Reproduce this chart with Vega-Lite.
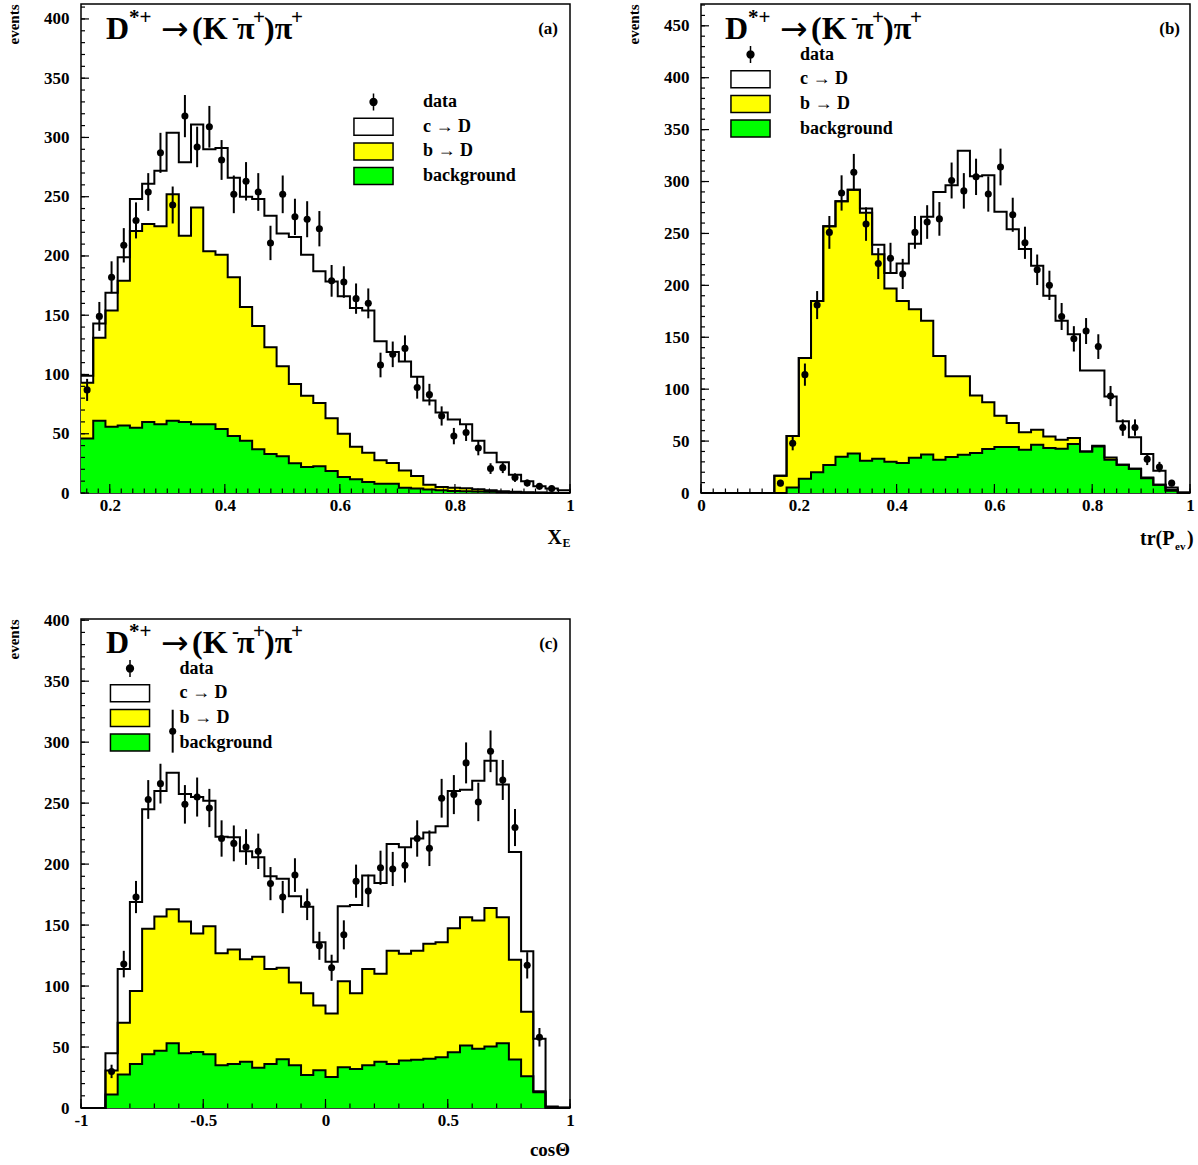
{
"$schema": "https://vega.github.io/schema/vega-lite/v6.json",
"padding": {"left": 5, "top": 3, "right": 5, "bottom": 5},
"background": "white",
"datasets": {
"histA": [{"x":0.15,"tot":99,"yb":93,"bg":46},{"x":0.17125,"tot":143,"yb":131,"bg":61},{"x":0.1925,"tot":169,"yb":154,"bg":56},{"x":0.21375,"tot":199,"yb":179,"bg":57},{"x":0.235,"tot":248,"yb":221,"bg":55},{"x":0.25625,"tot":261,"yb":227,"bg":60},{"x":0.2775,"tot":272,"yb":225,"bg":58},{"x":0.29875,"tot":304,"yb":252,"bg":61},{"x":0.32,"tot":279,"yb":217,"bg":60},{"x":0.34125,"tot":311,"yb":241,"bg":58},{"x":0.3625,"tot":290,"yb":204,"bg":58},{"x":0.38375,"tot":291,"yb":201,"bg":54},{"x":0.405,"tot":266,"yb":182,"bg":48},{"x":0.42625,"tot":250,"yb":157,"bg":44},{"x":0.4475,"tot":248,"yb":141,"bg":37},{"x":0.46875,"tot":234,"yb":123,"bg":33},{"x":0.49,"tot":219,"yb":107,"bg":31},{"x":0.51125,"tot":216,"yb":92,"bg":25},{"x":0.5325,"tot":201,"yb":82,"bg":22},{"x":0.55375,"tot":187,"yb":76,"bg":22.5},{"x":0.575,"tot":178.5,"yb":63,"bg":18.5},{"x":0.59625,"tot":166,"yb":50,"bg":13.5},{"x":0.6175,"tot":156,"yb":39,"bg":11.5},{"x":0.63875,"tot":154,"yb":34,"bg":9.3},{"x":0.66,"tot":128,"yb":27.6,"bg":7.9},{"x":0.68125,"tot":119,"yb":25.3,"bg":7.9},{"x":0.7025,"tot":111,"yb":19,"bg":4.5},{"x":0.72375,"tot":98,"yb":14.3,"bg":3.7},{"x":0.745,"tot":78,"yb":7,"bg":2.9},{"x":0.76625,"tot":68,"yb":5,"bg":2.3},{"x":0.7875,"tot":62,"yb":4.5,"bg":1.7},{"x":0.80875,"tot":58,"yb":4,"bg":1.4},{"x":0.83,"tot":44,"yb":3.1,"bg":1.2},{"x":0.85125,"tot":34,"yb":2.3,"bg":1},{"x":0.8725,"tot":26,"yb":1.5,"bg":0.7},{"x":0.89375,"tot":15.5,"yb":1,"bg":0.5},{"x":0.915,"tot":10,"yb":0.6,"bg":0.3},{"x":0.93625,"tot":5.6,"yb":0.4,"bg":0.2},{"x":0.9575,"tot":3.7,"yb":0.2,"bg":0.1},{"x":0.97875,"tot":2.3,"yb":0.1,"bg":0.05},{"x":1.0,"tot":0,"yb":0,"bg":0}],
"ptsA": [{"xc":0.160625,"n":87,"err":9.3},{"xc":0.181875,"n":149,"err":12.2},{"xc":0.203125,"n":182,"err":13.5},{"xc":0.224375,"n":209,"err":14.5},{"xc":0.245625,"n":230,"err":15.2},{"xc":0.266875,"n":254,"err":15.9},{"xc":0.288125,"n":287,"err":16.9},{"xc":0.309375,"n":243,"err":15.6},{"xc":0.330625,"n":318,"err":17.8},{"xc":0.351875,"n":292,"err":17.1},{"xc":0.373125,"n":309,"err":17.6},{"xc":0.394375,"n":281,"err":16.8},{"xc":0.415625,"n":252,"err":15.9},{"xc":0.436875,"n":263,"err":16.2},{"xc":0.458125,"n":254,"err":15.9},{"xc":0.479375,"n":211,"err":14.5},{"xc":0.500625,"n":252,"err":15.9},{"xc":0.521875,"n":233,"err":15.3},{"xc":0.543125,"n":231,"err":15.2},{"xc":0.564375,"n":223,"err":14.9},{"xc":0.585625,"n":179,"err":13.4},{"xc":0.606875,"n":178,"err":13.3},{"xc":0.628125,"n":164,"err":12.8},{"xc":0.649375,"n":160,"err":12.6},{"xc":0.670625,"n":108,"err":10.4},{"xc":0.691875,"n":117,"err":10.8},{"xc":0.713125,"n":122,"err":11},{"xc":0.734375,"n":89,"err":9.4},{"xc":0.755625,"n":83,"err":9.1},{"xc":0.776875,"n":65,"err":8.1},{"xc":0.798125,"n":48,"err":6.9},{"xc":0.819375,"n":51,"err":7.1},{"xc":0.840625,"n":38,"err":6.2},{"xc":0.861875,"n":20.6,"err":4.5},{"xc":0.883125,"n":21.4,"err":4.6},{"xc":0.904375,"n":13,"err":3.6},{"xc":0.925625,"n":8.4,"err":2.9},{"xc":0.946875,"n":5.6,"err":2.4},{"xc":0.968125,"n":3.7,"err":1.9}],
"histB": [{"x":0,"tot":0,"yb":0,"bg":0},{"x":0.025,"tot":0,"yb":0,"bg":0},{"x":0.05,"tot":0,"yb":0,"bg":0},{"x":0.075,"tot":0,"yb":0,"bg":0},{"x":0.1,"tot":0,"yb":0,"bg":0},{"x":0.125,"tot":0,"yb":0,"bg":0},{"x":0.15,"tot":16.6,"yb":16.6,"bg":0},{"x":0.175,"tot":55,"yb":55,"bg":5.3},{"x":0.2,"tot":130,"yb":130,"bg":13.7},{"x":0.225,"tot":185,"yb":185,"bg":20},{"x":0.25,"tot":257,"yb":257,"bg":27},{"x":0.275,"tot":281,"yb":281,"bg":35},{"x":0.3,"tot":292,"yb":292,"bg":38},{"x":0.325,"tot":274,"yb":270,"bg":31},{"x":0.35,"tot":239,"yb":230,"bg":33},{"x":0.375,"tot":212,"yb":197,"bg":30},{"x":0.4,"tot":221,"yb":185,"bg":29},{"x":0.425,"tot":240,"yb":177,"bg":34},{"x":0.45,"tot":266,"yb":166,"bg":37},{"x":0.475,"tot":290,"yb":132,"bg":32},{"x":0.5,"tot":296.5,"yb":112.5,"bg":34.6},{"x":0.525,"tot":329.6,"yb":112.5,"bg":36.8},{"x":0.55,"tot":305,"yb":94,"bg":38.5},{"x":0.575,"tot":306,"yb":87.4,"bg":42.3},{"x":0.6,"tot":271,"yb":74.5,"bg":44.2},{"x":0.625,"tot":254,"yb":67.4,"bg":44.2},{"x":0.65,"tot":235,"yb":58.4,"bg":41.7},{"x":0.675,"tot":219,"yb":61,"bg":46.5},{"x":0.7,"tot":190,"yb":54.5,"bg":43.3},{"x":0.725,"tot":166,"yb":51.3,"bg":42.6},{"x":0.75,"tot":153,"yb":52.9,"bg":47.1},{"x":0.775,"tot":118,"yb":40,"bg":40},{"x":0.8,"tot":118,"yb":45.5,"bg":44.9},{"x":0.825,"tot":93,"yb":34.3,"bg":32},{"x":0.85,"tot":69,"yb":27.2,"bg":27.2},{"x":0.875,"tot":53.6,"yb":23.3,"bg":23.3},{"x":0.9,"tot":37.5,"yb":15,"bg":14.3},{"x":0.925,"tot":21.4,"yb":7.9,"bg":7.9},{"x":0.95,"tot":5.3,"yb":3.1,"bg":2.1},{"x":0.975,"tot":0.5,"yb":0.3,"bg":0.2},{"x":1.0,"tot":0,"yb":0,"bg":0}],
"ptsB": [{"xc":0.1625,"n":9.5,"err":3.1},{"xc":0.1875,"n":48,"err":6.9},{"xc":0.2125,"n":114,"err":10.7},{"xc":0.2375,"n":181,"err":13.5},{"xc":0.2625,"n":251,"err":15.8},{"xc":0.2875,"n":289,"err":17},{"xc":0.3125,"n":309,"err":17.6},{"xc":0.3375,"n":259,"err":16.1},{"xc":0.3625,"n":221,"err":14.9},{"xc":0.3875,"n":226,"err":15},{"xc":0.4125,"n":211,"err":14.5},{"xc":0.4375,"n":251,"err":15.8},{"xc":0.4625,"n":261,"err":16.2},{"xc":0.4875,"n":264,"err":16.2},{"xc":0.5125,"n":301,"err":17.3},{"xc":0.5375,"n":291,"err":17.1},{"xc":0.5625,"n":304.5,"err":17.5},{"xc":0.5875,"n":288,"err":17},{"xc":0.6125,"n":314,"err":17.7},{"xc":0.6375,"n":268,"err":16.4},{"xc":0.6625,"n":241,"err":15.5},{"xc":0.6875,"n":215,"err":14.7},{"xc":0.7125,"n":200,"err":14.1},{"xc":0.7375,"n":170,"err":13},{"xc":0.7625,"n":148.5,"err":12.2},{"xc":0.7875,"n":156,"err":12.5},{"xc":0.8125,"n":141,"err":11.9},{"xc":0.8375,"n":93.4,"err":9.7},{"xc":0.8625,"n":63,"err":7.9},{"xc":0.8875,"n":63,"err":7.9},{"xc":0.9125,"n":32.6,"err":5.7},{"xc":0.9375,"n":25,"err":5},{"xc":0.9625,"n":9.5,"err":3.1}],
"histC": [{"x":-1,"tot":0,"yb":0,"bg":0},{"x":-0.95,"tot":0,"yb":0,"bg":0},{"x":-0.9,"tot":45,"yb":30.7,"bg":11},{"x":-0.85,"tot":114,"yb":70,"bg":27.5},{"x":-0.8,"tot":169,"yb":96,"bg":36},{"x":-0.75,"tot":245,"yb":147,"bg":44},{"x":-0.7,"tot":260,"yb":157,"bg":47},{"x":-0.65,"tot":275,"yb":163,"bg":53},{"x":-0.6,"tot":257.5,"yb":153,"bg":45},{"x":-0.55,"tot":255,"yb":143,"bg":46},{"x":-0.5,"tot":252,"yb":149,"bg":44},{"x":-0.45,"tot":222.5,"yb":127,"bg":35},{"x":-0.4,"tot":222,"yb":130,"bg":36},{"x":-0.35,"tot":210.5,"yb":122,"bg":38},{"x":-0.3,"tot":205.6,"yb":124,"bg":33},{"x":-0.25,"tot":190,"yb":114,"bg":36},{"x":-0.2,"tot":188,"yb":115,"bg":40},{"x":-0.15,"tot":173.6,"yb":103,"bg":35},{"x":-0.1,"tot":165,"yb":94,"bg":27},{"x":-0.05,"tot":136,"yb":84,"bg":31},{"x":0,"tot":120,"yb":77.5,"bg":25.5},{"x":0.05,"tot":165.4,"yb":104,"bg":33.5},{"x":0.1,"tot":166.5,"yb":94,"bg":32},{"x":0.15,"tot":190.6,"yb":114,"bg":35},{"x":0.2,"tot":184.6,"yb":110,"bg":38},{"x":0.25,"tot":216.5,"yb":129,"bg":36},{"x":0.3,"tot":213.8,"yb":126.4,"bg":39},{"x":0.35,"tot":221,"yb":129,"bg":39.5},{"x":0.4,"tot":226,"yb":134.6,"bg":40.3},{"x":0.45,"tot":231,"yb":136,"bg":41.7},{"x":0.5,"tot":260,"yb":147.4,"bg":45.8},{"x":0.55,"tot":261,"yb":156.4,"bg":51.2},{"x":0.6,"tot":268.4,"yb":153.7,"bg":48.5},{"x":0.65,"tot":284.8,"yb":164.1,"bg":50.4},{"x":0.7,"tot":265.2,"yb":156.4,"bg":53.1},{"x":0.75,"tot":210,"yb":121.5,"bg":39.8},{"x":0.8,"tot":128.5,"yb":79,"bg":26},{"x":0.85,"tot":56.7,"yb":13.8,"bg":13},{"x":0.9,"tot":1.2,"yb":0.5,"bg":0.3},{"x":0.95,"tot":0.5,"yb":0.2,"bg":0.1},{"x":1.0,"tot":0,"yb":0,"bg":0}],
"ptsC": [{"xc":-0.875,"n":30,"err":5.5},{"xc":-0.825,"n":118,"err":10.9},{"xc":-0.775,"n":173,"err":13.2},{"xc":-0.725,"n":253,"err":15.9},{"xc":-0.675,"n":266,"err":16.3},{"xc":-0.625,"n":309,"err":17.6},{"xc":-0.575,"n":249,"err":15.8},{"xc":-0.525,"n":255,"err":16},{"xc":-0.475,"n":246,"err":15.7},{"xc":-0.425,"n":221,"err":14.9},{"xc":-0.375,"n":217,"err":14.7},{"xc":-0.325,"n":214,"err":14.6},{"xc":-0.275,"n":210.5,"err":14.5},{"xc":-0.225,"n":184,"err":13.6},{"xc":-0.175,"n":173,"err":13.2},{"xc":-0.125,"n":191,"err":13.8},{"xc":-0.075,"n":167,"err":12.9},{"xc":-0.025,"n":133,"err":11.5},{"xc":0.025,"n":115,"err":10.7},{"xc":0.075,"n":142,"err":11.9},{"xc":0.125,"n":186,"err":13.6},{"xc":0.175,"n":178,"err":13.3},{"xc":0.225,"n":197,"err":14},{"xc":0.275,"n":196,"err":14},{"xc":0.325,"n":199,"err":14.1},{"xc":0.375,"n":221,"err":14.9},{"xc":0.425,"n":213,"err":14.6},{"xc":0.475,"n":254,"err":15.9},{"xc":0.525,"n":257,"err":16},{"xc":0.575,"n":283,"err":16.8},{"xc":0.625,"n":251,"err":15.8},{"xc":0.675,"n":292.5,"err":17.1},{"xc":0.725,"n":269,"err":16.4},{"xc":0.775,"n":230,"err":15.2},{"xc":0.825,"n":117,"err":10.8},{"xc":0.875,"n":58,"err":7.6}],
"legendItems": [{"cat":"data"},{"cat":"c → D"},{"cat":"b → D"},{"cat":"background"}],
"yTicks": [{"v":0},{"v":10},{"v":20},{"v":30},{"v":40},{"v":50},{"v":60},{"v":70},{"v":80},{"v":90},{"v":100},{"v":110},{"v":120},{"v":130},{"v":140},{"v":150},{"v":160},{"v":170},{"v":180},{"v":190},{"v":200},{"v":210},{"v":220},{"v":230},{"v":240},{"v":250},{"v":260},{"v":270},{"v":280},{"v":290},{"v":300},{"v":310},{"v":320},{"v":330},{"v":340},{"v":350},{"v":360},{"v":370},{"v":380},{"v":390},{"v":400},{"v":410},{"v":420},{"v":430},{"v":440},{"v":450},{"v":460},{"v":470}],
"xTicksA": [{"v":0.16},{"v":0.18},{"v":0.2},{"v":0.22},{"v":0.24},{"v":0.26},{"v":0.28},{"v":0.3},{"v":0.32},{"v":0.34},{"v":0.36},{"v":0.38},{"v":0.4},{"v":0.42},{"v":0.44},{"v":0.46},{"v":0.48},{"v":0.5},{"v":0.52},{"v":0.54},{"v":0.56},{"v":0.58},{"v":0.6},{"v":0.62},{"v":0.64},{"v":0.66},{"v":0.68},{"v":0.7},{"v":0.72},{"v":0.74},{"v":0.76},{"v":0.78},{"v":0.8},{"v":0.82},{"v":0.84},{"v":0.86},{"v":0.88},{"v":0.9},{"v":0.92},{"v":0.94},{"v":0.96},{"v":0.98},{"v":1}],
"xTicksB": [{"v":0},{"v":0.025},{"v":0.05},{"v":0.075},{"v":0.1},{"v":0.125},{"v":0.15},{"v":0.175},{"v":0.2},{"v":0.225},{"v":0.25},{"v":0.275},{"v":0.3},{"v":0.325},{"v":0.35},{"v":0.375},{"v":0.4},{"v":0.425},{"v":0.45},{"v":0.475},{"v":0.5},{"v":0.525},{"v":0.55},{"v":0.575},{"v":0.6},{"v":0.625},{"v":0.65},{"v":0.675},{"v":0.7},{"v":0.725},{"v":0.75},{"v":0.775},{"v":0.8},{"v":0.825},{"v":0.85},{"v":0.875},{"v":0.9},{"v":0.925},{"v":0.95},{"v":0.975},{"v":1}],
"xTicksC": [{"v":-1},{"v":-0.9},{"v":-0.8},{"v":-0.7},{"v":-0.6},{"v":-0.5},{"v":-0.4},{"v":-0.3},{"v":-0.2},{"v":-0.1},{"v":0},{"v":0.1},{"v":0.2},{"v":0.3},{"v":0.4},{"v":0.5},{"v":0.6},{"v":0.7},{"v":0.8},{"v":0.9},{"v":1}]
},
"columns": 2,
"spacing": {"row": 126, "column": 131},
"bounds": "flush",
"resolve": {"scale": {"fill": "independent", "shape": "independent"}, "legend": {"fill": "independent", "shape": "independent"}},
"concat": [
{
"width": 489, "height": 489,
"data": {"name": "histA"},
"layer": [
{"mark": {"type": "area", "interpolate": "step-after", "color": "#ffff00"},
 "encoding": {
  "x": {"field": "x", "type": "quantitative", "scale": {"domain": [0.15, 1], "nice": false, "zero": false},
        "axis": {"title": null, "ticks": false, "values": [0.2,0.4,0.6,0.8,1], "labelExpr": "(datum.value < 0 ? '-' : '') + format(abs(datum.value),'~g')", "labelPadding": 4.5}},
  "y": {"field": "yb", "type": "quantitative", "stack": null, "title": "events", "scale": {"domain": [0, 412.6], "nice": false},
        "axis": {"title": "events", "ticks": false, "titleAnchor": "end", "titlePadding": 22, "values": [0,50,100,150,200,250,300,350,400], "labelPadding": 12}}
 }},
{"mark": {"type": "area", "interpolate": "step-after", "color": "#00ff00"},
 "encoding": {"x": {"field": "x", "type": "quantitative", "title": null}, "y": {"field": "bg", "type": "quantitative", "stack": null, "title": "events"}}},
{"mark": {"type": "line", "interpolate": "step-after", "color": "black", "strokeWidth": 2},
 "encoding": {"x": {"field": "x", "type": "quantitative", "title": null}, "y": {"field": "tot", "type": "quantitative", "title": "events"}}},
{"mark": {"type": "line", "interpolate": "step-after", "color": "black", "strokeWidth": 2},
 "encoding": {"x": {"field": "x", "type": "quantitative", "title": null}, "y": {"field": "yb", "type": "quantitative", "title": "events"}}},
{"mark": {"type": "line", "interpolate": "step-after", "color": "black", "strokeWidth": 2},
 "encoding": {"x": {"field": "x", "type": "quantitative", "title": null}, "y": {"field": "bg", "type": "quantitative", "title": "events"}}},
{"data": {"name": "ptsA"}, "mark": {"type": "errorbar", "color": "black", "thickness": 2},
 "encoding": {"x": {"field": "xc", "type": "quantitative", "title": null}, "y": {"field": "n", "type": "quantitative", "title": "events"}, "yError": {"field": "err"}}},
{"data": {"name": "ptsA"}, "mark": {"type": "point", "filled": true, "color": "black", "size": 50, "opacity": 1},
 "encoding": {"x": {"field": "xc", "type": "quantitative", "title": null}, "y": {"field": "n", "type": "quantitative", "title": "events"}}},
{"data": {"name": "yTicks"}, "transform": [{"filter": "datum.v <= 412"}],
 "mark": {"type": "rule", "color": "black", "strokeWidth": 1.2, "x2Offset": 4},
 "encoding": {"x": {"datum": 0.15, "type": "quantitative"}, "x2": {"datum": 0.15}, "y": {"field": "v", "type": "quantitative", "title": "events"}}},
{"data": {"name": "yTicks"}, "transform": [{"filter": "datum.v <= 412 && datum.v % 50 == 0"}],
 "mark": {"type": "rule", "color": "black", "strokeWidth": 1.2, "x2Offset": 8},
 "encoding": {"x": {"datum": 0.15, "type": "quantitative"}, "x2": {"datum": 0.15}, "y": {"field": "v", "type": "quantitative", "title": "events"}}},
{"data": {"name": "xTicksA"},
 "mark": {"type": "rule", "color": "black", "strokeWidth": 1.2, "y2Offset": -4.5},
 "encoding": {"x": {"field": "v", "type": "quantitative", "title": null}, "y": {"datum": 0, "type": "quantitative"}, "y2": {"datum": 0}}},
{"data": {"name": "xTicksA"}, "transform": [{"filter": "abs(datum.v*5-round(datum.v*5)) < 1e-6"}],
 "mark": {"type": "rule", "color": "black", "strokeWidth": 1.2, "y2Offset": -9},
 "encoding": {"x": {"field": "v", "type": "quantitative", "title": null}, "y": {"datum": 0, "type": "quantitative"}, "y2": {"datum": 0}}},
{"data": {"name": "legendItems"}, "mark": {"type": "point", "filled": true, "size": 0, "opacity": 1, "stroke": "black", "strokeWidth": 1.5},
 "encoding": {
  "fill": {"field": "cat", "type": "nominal", "scale": {"domain": ["data","c → D","b → D","background"], "range": ["black","white","#ffff00","#00ff00"]},
           "legend": {"title": null, "orient": "none", "legendX": 283, "legendY": 88.5, "encode": {"symbols": {"update": {"stroke": {"value": "black"}, "strokeWidth": {"value": 1.5}, "opacity": {"value": 1}}}}}},
  "shape": {"field": "cat", "type": "nominal", "scale": {"domain": ["data","c → D","b → D","background"], "range": ["M0,-1V1M-0.4,0A0.4,0.4,0,1,0,0.4,0A0.4,0.4,0,1,0,-0.4,0Z","M-2.3,-1H2.3V1H-2.3Z","M-2.3,-1H2.3V1H-2.3Z","M-2.3,-1H2.3V1H-2.3Z"]},
           "legend": {"title": null, "orient": "none", "legendX": 283, "legendY": 88.5, "encode": {"symbols": {"update": {"stroke": {"value": "black"}, "strokeWidth": {"value": 1.5}, "opacity": {"value": 1}}}}}}
 }},
{"data": {"values": [{}]}, "encoding": {"x": {"datum": 0.15, "type": "quantitative"}, "y": {"datum": 412.6, "type": "quantitative"}},
 "layer": [
  {"mark": {"type": "text", "text": "D", "fontSize": 32, "align": "left", "dx": 25, "dy": 35}},
  {"mark": {"type": "text", "text": "*+", "fontSize": 21, "align": "left", "dx": 48, "dy": 20}},
  {"mark": {"type": "text", "text": "→", "font": "DejaVu Sans", "fontWeight": "normal", "fontSize": 33, "align": "left", "dx": 80, "dy": 36}},
  {"mark": {"type": "text", "text": "(K", "fontSize": 32, "align": "left", "dx": 111, "dy": 35}},
  {"mark": {"type": "text", "text": "-", "fontSize": 21, "align": "left", "dx": 151, "dy": 20}},
  {"mark": {"type": "text", "text": "π", "fontSize": 32, "align": "left", "dx": 156, "dy": 35}},
  {"mark": {"type": "text", "text": "+", "fontSize": 21, "align": "left", "dx": 172, "dy": 20}},
  {"mark": {"type": "text", "text": ")π", "fontSize": 32, "align": "left", "dx": 183, "dy": 35}},
  {"mark": {"type": "text", "text": "+", "fontSize": 21, "align": "left", "dx": 210, "dy": 20}}
 ]},
{"data": {"values": [{}]}, "encoding": {"x": {"datum": 1, "type": "quantitative"}, "y": {"datum": 412.6, "type": "quantitative"}},
 "mark": {"type": "text", "text": "(a)", "fontSize": 17, "align": "right", "dx": -12, "dy": 30}},
{"data": {"values": [{}]}, "encoding": {"x": {"datum": 1, "type": "quantitative"}, "y": {"datum": 0, "type": "quantitative"}},
 "layer": [
  {"mark": {"type": "text", "text": "X", "fontSize": 20, "align": "left", "dx": -22.5, "dy": 50.5}},
  {"mark": {"type": "text", "text": "E", "fontSize": 12, "align": "left", "dx": -7.5, "dy": 54}}
 ]}
]
},
{
"width": 489, "height": 489,
"data": {"name": "histB"},
"layer": [
{"mark": {"type": "area", "interpolate": "step-after", "color": "#ffff00"},
 "encoding": {
  "x": {"field": "x", "type": "quantitative", "scale": {"domain": [0, 1], "nice": false, "zero": false},
        "axis": {"title": null, "ticks": false, "values": [0,0.2,0.4,0.6,0.8,1], "labelExpr": "(datum.value < 0 ? '-' : '') + format(abs(datum.value),'~g')", "labelPadding": 4.5}},
  "y": {"field": "yb", "type": "quantitative", "stack": null, "title": "events", "scale": {"domain": [0, 471], "nice": false},
        "axis": {"title": "events", "ticks": false, "titleAnchor": "end", "titlePadding": 22, "values": [0,50,100,150,200,250,300,350,400,450], "labelPadding": 12}}
 }},
{"mark": {"type": "area", "interpolate": "step-after", "color": "#00ff00"},
 "encoding": {"x": {"field": "x", "type": "quantitative", "title": null}, "y": {"field": "bg", "type": "quantitative", "stack": null, "title": "events"}}},
{"mark": {"type": "line", "interpolate": "step-after", "color": "black", "strokeWidth": 2},
 "encoding": {"x": {"field": "x", "type": "quantitative", "title": null}, "y": {"field": "tot", "type": "quantitative", "title": "events"}}},
{"mark": {"type": "line", "interpolate": "step-after", "color": "black", "strokeWidth": 2},
 "encoding": {"x": {"field": "x", "type": "quantitative", "title": null}, "y": {"field": "yb", "type": "quantitative", "title": "events"}}},
{"mark": {"type": "line", "interpolate": "step-after", "color": "black", "strokeWidth": 2},
 "encoding": {"x": {"field": "x", "type": "quantitative", "title": null}, "y": {"field": "bg", "type": "quantitative", "title": "events"}}},
{"data": {"name": "ptsB"}, "mark": {"type": "errorbar", "color": "black", "thickness": 2},
 "encoding": {"x": {"field": "xc", "type": "quantitative", "title": null}, "y": {"field": "n", "type": "quantitative", "title": "events"}, "yError": {"field": "err"}}},
{"data": {"name": "ptsB"}, "mark": {"type": "point", "filled": true, "color": "black", "size": 50, "opacity": 1},
 "encoding": {"x": {"field": "xc", "type": "quantitative", "title": null}, "y": {"field": "n", "type": "quantitative", "title": "events"}}},
{"data": {"name": "yTicks"}, "transform": [{"filter": "datum.v <= 471"}],
 "mark": {"type": "rule", "color": "black", "strokeWidth": 1.2, "x2Offset": 4},
 "encoding": {"x": {"datum": 0, "type": "quantitative"}, "x2": {"datum": 0}, "y": {"field": "v", "type": "quantitative", "title": "events"}}},
{"data": {"name": "yTicks"}, "transform": [{"filter": "datum.v <= 471 && datum.v % 50 == 0"}],
 "mark": {"type": "rule", "color": "black", "strokeWidth": 1.2, "x2Offset": 8},
 "encoding": {"x": {"datum": 0, "type": "quantitative"}, "x2": {"datum": 0}, "y": {"field": "v", "type": "quantitative", "title": "events"}}},
{"data": {"name": "xTicksB"},
 "mark": {"type": "rule", "color": "black", "strokeWidth": 1.2, "y2Offset": -4.5},
 "encoding": {"x": {"field": "v", "type": "quantitative", "title": null}, "y": {"datum": 0, "type": "quantitative"}, "y2": {"datum": 0}}},
{"data": {"name": "xTicksB"}, "transform": [{"filter": "abs(datum.v*5-round(datum.v*5)) < 1e-6"}],
 "mark": {"type": "rule", "color": "black", "strokeWidth": 1.2, "y2Offset": -9},
 "encoding": {"x": {"field": "v", "type": "quantitative", "title": null}, "y": {"datum": 0, "type": "quantitative"}, "y2": {"datum": 0}}},
{"data": {"name": "legendItems"}, "mark": {"type": "point", "filled": true, "size": 0, "opacity": 1, "stroke": "black", "strokeWidth": 1.5},
 "encoding": {
  "fill": {"field": "cat", "type": "nominal", "scale": {"domain": ["data","c → D","b → D","background"], "range": ["black","white","#ffff00","#00ff00"]},
           "legend": {"title": null, "orient": "none", "legendX": 40, "legendY": 41, "encode": {"symbols": {"update": {"stroke": {"value": "black"}, "strokeWidth": {"value": 1.5}, "opacity": {"value": 1}}}}}},
  "shape": {"field": "cat", "type": "nominal", "scale": {"domain": ["data","c → D","b → D","background"], "range": ["M0,-1V1M-0.4,0A0.4,0.4,0,1,0,0.4,0A0.4,0.4,0,1,0,-0.4,0Z","M-2.3,-1H2.3V1H-2.3Z","M-2.3,-1H2.3V1H-2.3Z","M-2.3,-1H2.3V1H-2.3Z"]},
           "legend": {"title": null, "orient": "none", "legendX": 40, "legendY": 41, "encode": {"symbols": {"update": {"stroke": {"value": "black"}, "strokeWidth": {"value": 1.5}, "opacity": {"value": 1}}}}}}
 }},
{"data": {"values": [{}]}, "encoding": {"x": {"datum": 0, "type": "quantitative"}, "y": {"datum": 471, "type": "quantitative"}},
 "layer": [
  {"mark": {"type": "text", "text": "D", "fontSize": 32, "align": "left", "dx": 24, "dy": 35}},
  {"mark": {"type": "text", "text": "*+", "fontSize": 21, "align": "left", "dx": 47, "dy": 20}},
  {"mark": {"type": "text", "text": "→", "font": "DejaVu Sans", "fontWeight": "normal", "fontSize": 33, "align": "left", "dx": 79, "dy": 36}},
  {"mark": {"type": "text", "text": "(K", "fontSize": 32, "align": "left", "dx": 110, "dy": 35}},
  {"mark": {"type": "text", "text": "-", "fontSize": 21, "align": "left", "dx": 150, "dy": 20}},
  {"mark": {"type": "text", "text": "π", "fontSize": 32, "align": "left", "dx": 155, "dy": 35}},
  {"mark": {"type": "text", "text": "+", "fontSize": 21, "align": "left", "dx": 171, "dy": 20}},
  {"mark": {"type": "text", "text": ")π", "fontSize": 32, "align": "left", "dx": 182, "dy": 35}},
  {"mark": {"type": "text", "text": "+", "fontSize": 21, "align": "left", "dx": 209, "dy": 20}}
 ]},
{"data": {"values": [{}]}, "encoding": {"x": {"datum": 1, "type": "quantitative"}, "y": {"datum": 471, "type": "quantitative"}},
 "mark": {"type": "text", "text": "(b)", "fontSize": 17, "align": "right", "dx": -10, "dy": 30}},
{"data": {"values": [{}]}, "encoding": {"x": {"datum": 1, "type": "quantitative"}, "y": {"datum": 0, "type": "quantitative"}},
 "layer": [
  {"mark": {"type": "text", "text": "tr(P", "fontSize": 20, "align": "left", "dx": -50, "dy": 52}},
  {"mark": {"type": "text", "text": "ev", "fontSize": 11, "align": "left", "dx": -15, "dy": 56.5}},
  {"mark": {"type": "text", "text": ")", "fontSize": 20, "align": "left", "dx": -3, "dy": 52}}
 ]}
]
},
{
"width": 489, "height": 489,
"data": {"name": "histC"},
"layer": [
{"mark": {"type": "area", "interpolate": "step-after", "color": "#ffff00"},
 "encoding": {
  "x": {"field": "x", "type": "quantitative", "scale": {"domain": [-1, 1], "nice": false, "zero": false},
        "axis": {"title": null, "ticks": false, "values": [-1,-0.5,0,0.5,1], "labelExpr": "(datum.value < 0 ? '-' : '') + format(abs(datum.value),'~g')", "labelPadding": 4.5}},
  "y": {"field": "yb", "type": "quantitative", "stack": null, "title": "events", "scale": {"domain": [0, 401], "nice": false},
        "axis": {"title": "events", "ticks": false, "titleAnchor": "end", "titlePadding": 22, "values": [0,50,100,150,200,250,300,350,400], "labelPadding": 12}}
 }},
{"mark": {"type": "area", "interpolate": "step-after", "color": "#00ff00"},
 "encoding": {"x": {"field": "x", "type": "quantitative", "title": null}, "y": {"field": "bg", "type": "quantitative", "stack": null, "title": "events"}}},
{"mark": {"type": "line", "interpolate": "step-after", "color": "black", "strokeWidth": 2},
 "encoding": {"x": {"field": "x", "type": "quantitative", "title": null}, "y": {"field": "tot", "type": "quantitative", "title": "events"}}},
{"mark": {"type": "line", "interpolate": "step-after", "color": "black", "strokeWidth": 2},
 "encoding": {"x": {"field": "x", "type": "quantitative", "title": null}, "y": {"field": "yb", "type": "quantitative", "title": "events"}}},
{"mark": {"type": "line", "interpolate": "step-after", "color": "black", "strokeWidth": 2},
 "encoding": {"x": {"field": "x", "type": "quantitative", "title": null}, "y": {"field": "bg", "type": "quantitative", "title": "events"}}},
{"data": {"name": "ptsC"}, "mark": {"type": "errorbar", "color": "black", "thickness": 2},
 "encoding": {"x": {"field": "xc", "type": "quantitative", "title": null}, "y": {"field": "n", "type": "quantitative", "title": "events"}, "yError": {"field": "err"}}},
{"data": {"name": "ptsC"}, "mark": {"type": "point", "filled": true, "color": "black", "size": 50, "opacity": 1},
 "encoding": {"x": {"field": "xc", "type": "quantitative", "title": null}, "y": {"field": "n", "type": "quantitative", "title": "events"}}},
{"data": {"name": "yTicks"}, "transform": [{"filter": "datum.v <= 400"}],
 "mark": {"type": "rule", "color": "black", "strokeWidth": 1.2, "x2Offset": 4},
 "encoding": {"x": {"datum": -1, "type": "quantitative"}, "x2": {"datum": -1}, "y": {"field": "v", "type": "quantitative", "title": "events"}}},
{"data": {"name": "yTicks"}, "transform": [{"filter": "datum.v <= 400 && datum.v % 50 == 0"}],
 "mark": {"type": "rule", "color": "black", "strokeWidth": 1.2, "x2Offset": 8},
 "encoding": {"x": {"datum": -1, "type": "quantitative"}, "x2": {"datum": -1}, "y": {"field": "v", "type": "quantitative", "title": "events"}}},
{"data": {"name": "xTicksC"},
 "mark": {"type": "rule", "color": "black", "strokeWidth": 1.2, "y2Offset": -4.5},
 "encoding": {"x": {"field": "v", "type": "quantitative", "title": null}, "y": {"datum": 0, "type": "quantitative"}, "y2": {"datum": 0}}},
{"data": {"name": "xTicksC"}, "transform": [{"filter": "abs(datum.v*2-round(datum.v*2)) < 1e-6"}],
 "mark": {"type": "rule", "color": "black", "strokeWidth": 1.2, "y2Offset": -9},
 "encoding": {"x": {"field": "v", "type": "quantitative", "title": null}, "y": {"datum": 0, "type": "quantitative"}, "y2": {"datum": 0}}},
{"data": {"name": "legendItems"}, "mark": {"type": "point", "filled": true, "size": 0, "opacity": 1, "stroke": "black", "strokeWidth": 1.5},
 "encoding": {
  "fill": {"field": "cat", "type": "nominal", "scale": {"domain": ["data","c → D","b → D","background"], "range": ["black","white","#ffff00","#00ff00"]},
           "legend": {"title": null, "orient": "none", "legendX": 39.5, "legendY": 40, "encode": {"symbols": {"update": {"stroke": {"value": "black"}, "strokeWidth": {"value": 1.5}, "opacity": {"value": 1}}}}}},
  "shape": {"field": "cat", "type": "nominal", "scale": {"domain": ["data","c → D","b → D","background"], "range": ["M0,-1V1M-0.4,0A0.4,0.4,0,1,0,0.4,0A0.4,0.4,0,1,0,-0.4,0Z","M-2.3,-1H2.3V1H-2.3Z","M-2.3,-1H2.3V1H-2.3Z","M-2.3,-1H2.3V1H-2.3Z"]},
           "legend": {"title": null, "orient": "none", "legendX": 39.5, "legendY": 40, "encode": {"symbols": {"update": {"stroke": {"value": "black"}, "strokeWidth": {"value": 1.5}, "opacity": {"value": 1}}}}}}
 }},
{"data": {"values": [{}]}, "encoding": {"x": {"datum": -1, "type": "quantitative"}, "y": {"datum": 401, "type": "quantitative"}},
 "layer": [
  {"mark": {"type": "text", "text": "D", "fontSize": 32, "align": "left", "dx": 25, "dy": 34}},
  {"mark": {"type": "text", "text": "*+", "fontSize": 21, "align": "left", "dx": 48, "dy": 19}},
  {"mark": {"type": "text", "text": "→", "font": "DejaVu Sans", "fontWeight": "normal", "fontSize": 33, "align": "left", "dx": 80, "dy": 35}},
  {"mark": {"type": "text", "text": "(K", "fontSize": 32, "align": "left", "dx": 111, "dy": 34}},
  {"mark": {"type": "text", "text": "-", "fontSize": 21, "align": "left", "dx": 151, "dy": 19}},
  {"mark": {"type": "text", "text": "π", "fontSize": 32, "align": "left", "dx": 156, "dy": 34}},
  {"mark": {"type": "text", "text": "+", "fontSize": 21, "align": "left", "dx": 172, "dy": 19}},
  {"mark": {"type": "text", "text": ")π", "fontSize": 32, "align": "left", "dx": 183, "dy": 34}},
  {"mark": {"type": "text", "text": "+", "fontSize": 21, "align": "left", "dx": 210, "dy": 19}}
 ]},
{"data": {"values": [{}]}, "encoding": {"x": {"datum": 1, "type": "quantitative"}, "y": {"datum": 401, "type": "quantitative"}},
 "mark": {"type": "text", "text": "(c)", "fontSize": 17, "align": "right", "dx": -12, "dy": 30}},
{"data": {"values": [{}]}, "encoding": {"x": {"datum": 1, "type": "quantitative"}, "y": {"datum": 0, "type": "quantitative"}},
 "mark": {"type": "text", "text": "cosΘ", "fontSize": 19, "align": "right", "dx": 0, "dy": 48}}
]
}
],
"config": {
 "view": {"stroke": "black", "strokeWidth": 1.5},
 "axis": {"grid": false, "domain": false, "labelFont": "Liberation Serif", "labelFontWeight": "bold", "labelFontSize": 17, "labelColor": "black", "labelFlush": false, "titleFont": "Liberation Serif", "titleFontWeight": "bold", "titleColor": "black", "titleFontSize": 15},
 "legend": {"labelFont": "Liberation Serif", "labelFontWeight": "bold", "labelFontSize": 18, "labelColor": "black", "symbolSize": 289, "symbolStrokeWidth": 1.5, "symbolStrokeColor": "black", "symbolOpacity": 1, "rowPadding": 1.7, "labelOffset": 40, "padding": 0},
 "text": {"font": "Liberation Serif", "fontWeight": "bold", "color": "black", "baseline": "alphabetic"}
}
}
